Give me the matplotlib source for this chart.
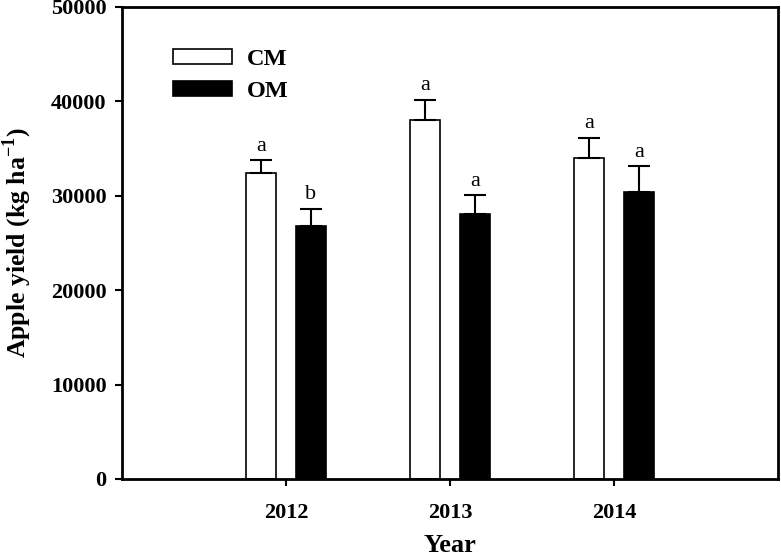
import numpy as np
import matplotlib.pyplot as plt

plt.rcParams['font.family'] = 'Liberation Serif'
plt.rcParams['mathtext.fontset'] = 'custom'
plt.rcParams['mathtext.rm'] = 'Liberation Serif'
plt.rcParams['mathtext.bf'] = 'Liberation Serif:bold'

years = ['2012', '2013', '2014']
cm = [32450, 38000, 33970]
cm_se = [1300, 2150, 2200]
om = [26780, 28100, 30360]
om_se = [1850, 1950, 2750]
cm_letters = ['a', 'a', 'a']
om_letters = ['b', 'a', 'a']

fig = plt.figure(figsize=(7.81, 5.55), dpi=100)
ax = fig.add_axes([122 / 781, 76 / 555, 656 / 781, 472 / 555])

x = np.arange(1, len(years) + 1)
w = 0.185
off = 0.152

ax.bar(x - off, cm, w, color='white', edgecolor='black', linewidth=1.2, label='CM')
ax.bar(x + off, om, w, color='black', edgecolor='black', linewidth=1.2, label='OM')
ax.errorbar(x - off, cm, yerr=[np.zeros(3), cm_se], fmt='none', ecolor='black',
            elinewidth=1.5, capsize=8, capthick=1.5)
ax.errorbar(x + off, om, yerr=[np.zeros(3), om_se], fmt='none', ecolor='black',
            elinewidth=1.5, capsize=8, capthick=1.5)

for i in range(len(years)):
    ax.text(x[i] - off, cm[i] + cm_se[i] + 500, cm_letters[i], ha='center', va='bottom', fontsize=16)
    ax.text(x[i] + off, om[i] + om_se[i] + 500, om_letters[i], ha='center', va='bottom', fontsize=16)

ax.set_xlim(0, 4.0)
ax.set_ylim(0, 50000)
ax.set_xticks(x)
ax.set_xticklabels(years)
ax.set_yticks(np.arange(0, 50001, 10000))
for lab in ax.get_xticklabels() + ax.get_yticklabels():
    lab.set_fontweight('bold')
    lab.set_fontsize(16)
ax.tick_params(direction='out', length=5, width=1.5)
ax.tick_params(axis='y', pad=6)
ax.tick_params(axis='x', pad=12)
for s in ax.spines.values():
    s.set_linewidth(2)

ax.set_xlabel('Year', fontsize=19, fontweight='bold', labelpad=8)
ax.set_ylabel(r'Apple yield (kg ha$^{\mathbf{-1}}$)', fontsize=18.5, fontweight='bold', labelpad=12)

ax.legend(loc='upper left', bbox_to_anchor=(0.059, 0.936), frameon=False,
          prop={'weight': 'bold', 'size': 17.5}, handlelength=2.43, handleheight=0.58,
          borderpad=0, labelspacing=0.43, handletextpad=0.62)

fig.savefig('out.png', dpi=100)
